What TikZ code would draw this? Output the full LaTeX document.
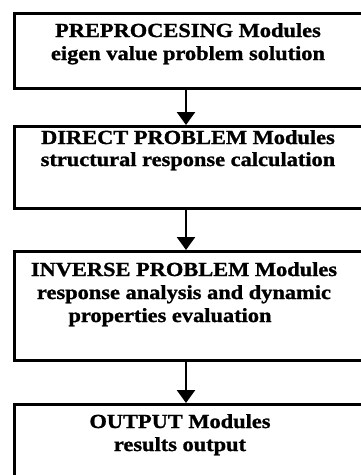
\documentclass[tikz,border=0pt]{standalone}
\usepackage{fontspec}
\setmainfont[FakeStretch=1.12, BoldFeatures={FakeBold=1.2}]{Liberation Serif}
\usetikzlibrary{arrows.meta}
\begin{document}
\begin{tikzpicture}[x=1pt,y=1pt,
  box/.style={draw=black, line width=3pt, rectangle, inner sep=0pt, anchor=north west, minimum width=351pt},
  txt/.style={font=\fontsize{20}{22}\selectfont\bfseries, anchor=base, inner sep=0pt},
  arr/.style={line width=2.5pt, -{Triangle[width=18pt,length=13pt]}}]
\useasboundingbox (0,0) rectangle (361,-475);
\clip (0,0) rectangle (361,-475);
\node[box, minimum height=75pt] (b1) at (13,-11.5) {};
\node[box, minimum height=82pt] (b2) at (13,-125) {};
\node[box, minimum height=109pt] (b3) at (13,-250) {};
\node[box, minimum height=90pt] (b4) at (13,-403) {};
\coordinate (ax) at (186,0);
\draw[arr] (b1.south -| ax) -- (b2.north -| ax);
\draw[arr] (b2.south -| ax) -- (b3.north -| ax);
\draw[arr] (b3.south -| ax) -- (b4.north -| ax);
\node[txt] (t1a) at (188,-37) {PREPROCESING Modules};
\node[txt] (t1b) at (188,-60) {eigen value problem solution};
\node[txt] (t2a) at (188,-144) {DIRECT PROBLEM Modules};
\node[txt] (t2b) at (188,-166) {structural response calculation};
\node[txt] (t3a) at (184,-276) {INVERSE PROBLEM Modules};
\node[txt] (t3b) at (184,-299) {response analysis and dynamic};
\node[txt] (t3c) at (170,-322) {properties evaluation};
\node[txt] (t4a) at (180,-428) {OUTPUT Modules};
\node[txt] (t4b) at (180,-451) {results output};
\end{tikzpicture}
\end{document}
